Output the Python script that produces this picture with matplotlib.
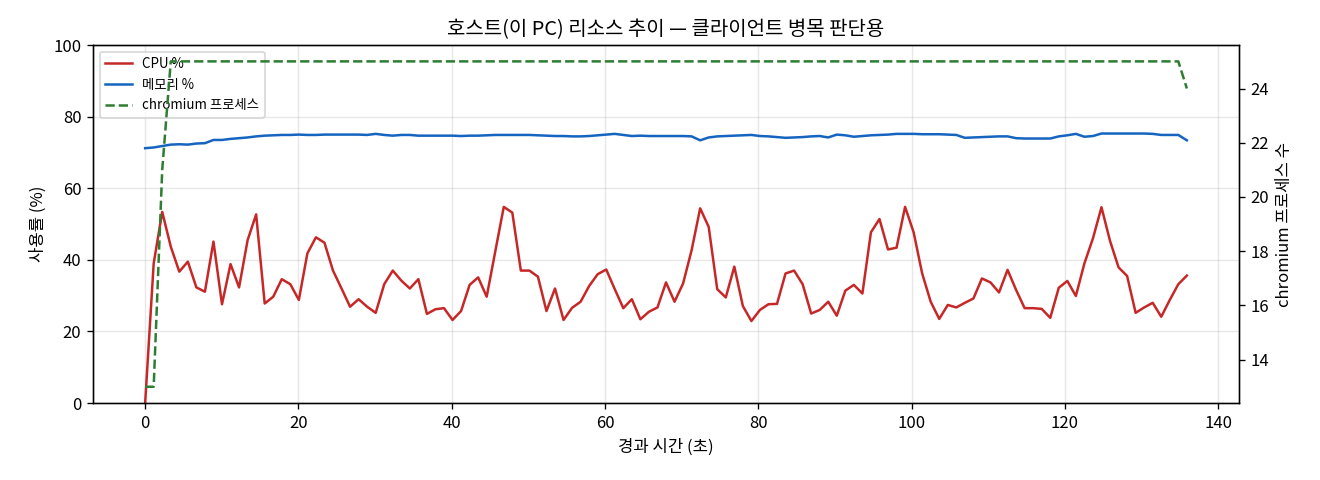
import numpy as np
import matplotlib
matplotlib.use("Agg")
import matplotlib.pyplot as plt

plt.rcParams['font.family'] = ['Noto Sans CJK KR', 'DejaVu Sans']
plt.rcParams['axes.unicode_minus'] = False

# sampled host metrics (about 1.1 s apart)
cpu = [0, 39.0, 53.4, 43.7, 36.7, 39.5, 32.3, 31.1, 45.1, 27.6,
       38.8, 32.3, 45.5, 52.7, 27.8, 29.7, 34.6, 33.2, 28.8, 41.8,
       46.3, 44.8, 37.0, 32.0, 26.9, 29.0, 26.9, 25.2, 33.2, 37.0,
       34.2, 32.0, 34.6, 24.9, 26.2, 26.5, 23.2, 25.7, 33.0, 35.1,
       29.7, 42.3, 54.8, 53.2, 37.0, 37.0, 35.3, 25.7, 32.0, 23.2,
       26.6, 28.3, 32.7, 36.0, 37.3, 31.8, 26.5, 29.0, 23.4, 25.5,
       26.7, 33.7, 28.3, 33.4, 42.7, 54.4, 49.2, 31.8, 29.5, 38.1,
       27.1, 22.9, 26.0, 27.6, 27.7, 36.2, 37.0, 33.2, 25.0, 26.0,
       28.3, 24.4, 31.4, 33.0, 30.6, 47.7, 51.4, 42.9, 43.4, 54.8,
       47.7, 36.2, 28.3, 23.5, 27.4, 26.7, 28.0, 29.2, 34.8, 33.7,
       30.9, 37.2, 31.6, 26.5, 26.5, 26.3, 23.8, 32.2, 34.1, 29.9,
       39.0, 46.0, 54.7, 45.3, 37.9, 35.5, 25.2, 26.7, 28.0, 24.1,
       28.8, 33.2, 35.6]

mem = [71.2, 71.4, 71.8, 72.2, 72.3, 72.2, 72.5, 72.6, 73.5, 73.5,
       73.8, 74.0, 74.2, 74.5, 74.7, 74.8, 74.9, 74.9, 75.0, 74.9,
       74.9, 75.0, 75.0, 75.0, 75.0, 75.0, 74.9, 75.2, 74.9, 74.7,
       74.9, 74.9, 74.7, 74.7, 74.7, 74.7, 74.7, 74.6, 74.7, 74.7,
       74.8, 74.9, 74.9, 74.9, 74.9, 74.9, 74.8, 74.7, 74.6, 74.6,
       74.5, 74.5, 74.6, 74.8, 75.0, 75.2, 74.9, 74.6, 74.7, 74.6,
       74.6, 74.6, 74.6, 74.6, 74.5, 73.4, 74.2, 74.5, 74.6, 74.7,
       74.8, 74.9, 74.6, 74.5, 74.3, 74.1, 74.2, 74.3, 74.5, 74.6,
       74.2, 75.0, 74.8, 74.4, 74.6, 74.8, 74.9, 75.0, 75.2, 75.2,
       75.2, 75.1, 75.1, 75.1, 75.0, 74.9, 74.1, 74.2, 74.3, 74.4,
       74.5, 74.5, 74.0, 73.9, 73.9, 73.9, 73.9, 74.5, 74.8, 75.2,
       74.4, 74.6, 75.3, 75.3, 75.3, 75.3, 75.3, 75.3, 75.2, 74.9,
       74.9, 74.9, 73.4]

chromium = [13, 13, 21] + [25] * 119 + [24]

t = np.linspace(0, 135.9, len(cpu))

fig, ax = plt.subplots(figsize=(11, 4), dpi=120)
fig.subplots_adjust(left=0.0705, right=0.9386, bottom=0.1604, top=0.906)

l1, = ax.plot(t, cpu, color="#c62828", lw=1.5, label="CPU %")
l2, = ax.plot(t, mem, color="#1565c0", lw=1.5, label="메모리 %")
ax.set_ylim(0, 100)
ax.set_xlabel("경과 시간 (초)")
ax.set_ylabel("사용률 (%)")
ax.grid(True, alpha=0.3)

ax2 = ax.twinx()
l3, = ax2.plot(t, chromium, color="#2e7d32", lw=1.5, ls="--", label="chromium 프로세스")
ax2.set_ylabel("chromium 프로세스 수")

ax.legend(handles=[l1, l2, l3], loc="upper left", fontsize=8)
ax.set_title("호스트(이 PC) 리소스 추이 — 클라이언트 병목 판단용")

fig.savefig("out.png")
